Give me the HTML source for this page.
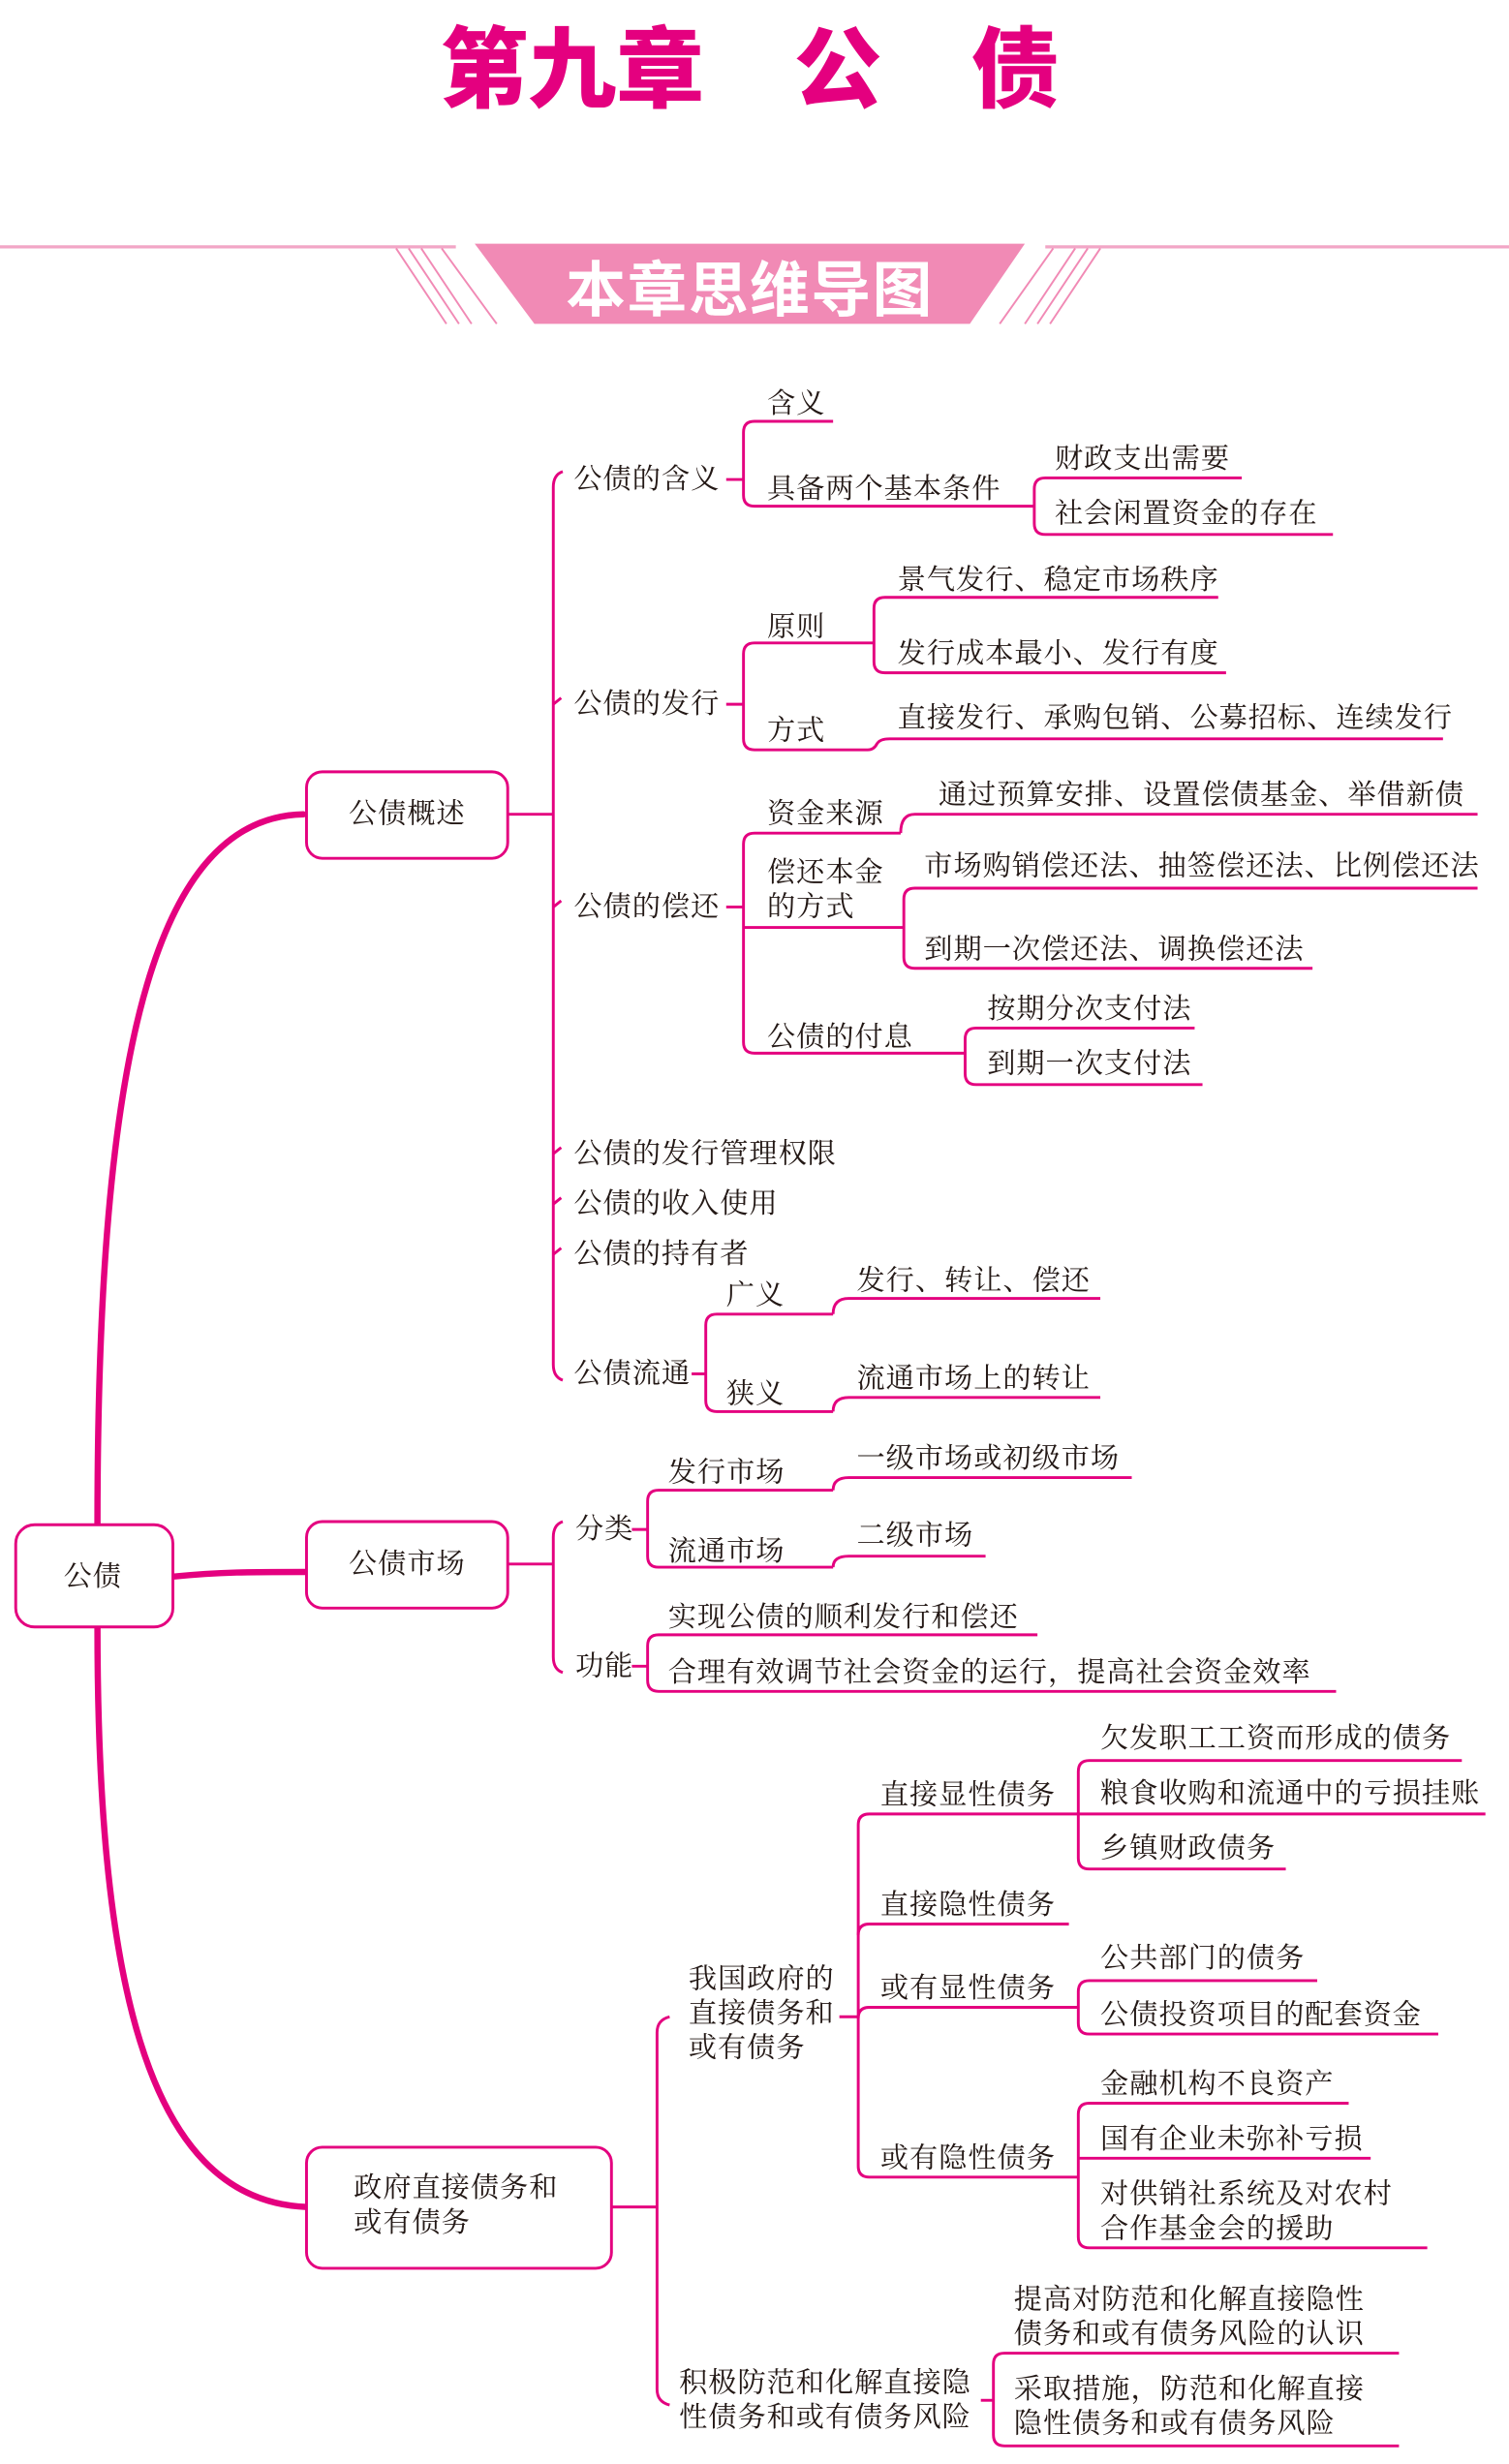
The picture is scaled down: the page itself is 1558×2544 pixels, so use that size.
<!DOCTYPE html>
<html><head><meta charset="utf-8"><style>
html,body{margin:0;padding:0;background:#fff;}
svg{display:block;}
text{font-family:"Liberation Serif","Noto Serif CJK SC",serif;font-size:18px;letter-spacing:0.6px;fill:#231815;dominant-baseline:central;}
.l{fill:none;stroke:#e4007f;stroke-width:1.8;}
.t{fill:none;stroke:#e4007f;stroke-width:4;stroke-linecap:round;}
.b{fill:#fff;stroke:#e4007f;stroke-width:1.8;}
</style></head><body>
<svg width="1558" height="2544" viewBox="0 0 960 1567.5" xmlns="http://www.w3.org/2000/svg">
<text x="280" y="40" style="font-family:'Noto Sans CJK SC',sans-serif;font-size:56px;fill:#e4007f;font-weight:900;letter-spacing:0">第九章</text>
<text x="505" y="40" style="font-family:'Noto Sans CJK SC',sans-serif;font-size:56px;fill:#e4007f;font-weight:900;letter-spacing:0">公</text>
<text x="618" y="40" style="font-family:'Noto Sans CJK SC',sans-serif;font-size:56px;fill:#e4007f;font-weight:900;letter-spacing:0">债</text>
<line x1="0" y1="157" x2="290" y2="157" stroke="#f2a6c6" stroke-width="2"/>
<line x1="665" y1="157" x2="960" y2="157" stroke="#f2a6c6" stroke-width="2"/>
<polygon points="302,155 652,155 617,206 340,206" fill="#f18ab5"/>
<g stroke="#f18ab5" stroke-width="1.2">
<line x1="252" y1="158" x2="284" y2="206"/><line x1="260" y1="158" x2="292" y2="206"/><line x1="268" y1="158" x2="300" y2="206"/><line x1="281" y1="158" x2="316" y2="206"/>
<line x1="700" y1="158" x2="668" y2="206"/><line x1="692" y1="158" x2="660" y2="206"/><line x1="684" y1="158" x2="652" y2="206"/><line x1="670" y1="158" x2="636" y2="206"/>
</g>
<text x="477" y="181" text-anchor="middle" style="font-family:'Noto Sans CJK SC',sans-serif;font-size:38px;font-weight:bold;fill:#fff;letter-spacing:1px">本章思维导图</text>

<path class="t" d="M62 970 C62 700 90 520 193 518"/>
<path class="t" d="M62 1035 C62 1250 90 1400 195 1404"/>
<path class="t" d="M110 1003 C140 1000 160 1000 195 1000"/>

<rect class="b" x="10" y="970" width="100" height="65" rx="12"/>
<text x="59" y="1003" text-anchor="middle">公债</text>
<rect class="b" x="195" y="491" width="128" height="55" rx="10"/>
<text x="259" y="518" text-anchor="middle">公债概述</text>
<rect class="b" x="195" y="968" width="128" height="55" rx="10"/>
<text x="259" y="995" text-anchor="middle">公债市场</text>
<rect class="b" x="195" y="1366" width="194" height="77" rx="10"/>
<text x="225" y="1392">政府直接债务和</text>
<text x="225" y="1414">或有债务</text>

<path class="l" d="M323 518 H352"/>
<path class="l" d="M358 300 Q352 302 352 310 V868 Q352 876 358 878"/>
<path class="l" d="M352 448 l5 -4 M352 577 l5 -4 M352 734 l5 -4 M352 766 l5 -4 M352 798 l5 -4"/>
<text x="365" y="305">公债的含义</text>
<text x="365" y="448">公债的发行</text>
<text x="365" y="577">公债的偿还</text>
<text x="365" y="734">公债的发行管理权限</text>
<text x="365" y="766">公债的收入使用</text>
<text x="365" y="798">公债的持有者</text>
<text x="365" y="874">公债流通</text>

<path class="l" d="M462 305 H473"/>
<path class="l" d="M530 268 H480 Q473 268 473 275 V315 Q473 322 480 322 H658"/>
<text x="488" y="257">含义</text>
<text x="488" y="311">具备两个基本条件</text>
<path class="l" d="M790 304 H665 Q658 304 658 311 V333 Q658 340 665 340 H848"/>
<text x="671" y="292">财政支出需要</text>
<text x="671" y="327">社会闲置资金的存在</text>

<path class="l" d="M462 448 H473"/>
<path class="l" d="M556 409 H480 Q473 409 473 416 V470 Q473 477 480 477 H552 Q556 477 558 473 Q560 470 566 470 H918"/>
<text x="488" y="399">原则</text>
<text x="488" y="465">方式</text>
<path class="l" d="M775 380 H563 Q556 380 556 387 V421 Q556 428 563 428 H780"/>
<text x="571" y="369">景气发行、稳定市场秩序</text>
<text x="571" y="416">发行成本最小、发行有度</text>
<text x="571" y="457">直接发行、承购包销、公募招标、连续发行</text>

<path class="l" d="M462 577 H473"/>
<path class="l" d="M573 530 H480 Q473 530 473 537 V663 Q473 670 480 670 H614"/>
<path class="l" d="M573 530 Q573 518 582 518 H940"/>
<text x="488" y="518">资金来源</text>
<text x="597" y="506">通过预算安排、设置偿债基金、举借新债</text>
<path class="l" d="M473 590 H575"/>
<text x="488" y="555">偿还本金</text>
<text x="488" y="577">的方式</text>
<path class="l" d="M940 565 H582 Q575 565 575 572 V609 Q575 616 582 616 H835"/>
<text x="588" y="551">市场购销偿还法、抽签偿还法、比例偿还法</text>
<text x="588" y="604">到期一次偿还法、调换偿还法</text>
<text x="488" y="660">公债的付息</text>
<path class="l" d="M760 654 H621 Q614 654 614 661 V683 Q614 690 621 690 H765"/>
<text x="628" y="642">按期分次支付法</text>
<text x="628" y="677">到期一次支付法</text>

<path class="l" d="M440 874 H449"/>
<path class="l" d="M530 836 H456 Q449 836 449 843 V891 Q449 898 456 898 H530"/>
<path class="l" d="M530 836 Q530 826 540 826 H700 M530 898 Q530 889 540 889 H700"/>
<text x="462" y="824">广义</text>
<text x="462" y="887">狭义</text>
<text x="545" y="815">发行、转让、偿还</text>
<text x="545" y="877">流通市场上的转让</text>

<path class="l" d="M323 995 H352"/>
<path class="l" d="M358 968 Q352 970 352 978 V1054 Q352 1062 358 1064"/>
<text x="366" y="973">分类</text>
<text x="366" y="1060">功能</text>
<path class="l" d="M402 973 H412 M402 1060 H412"/>
<path class="l" d="M530 948 H419 Q412 948 412 955 V990 Q412 997 419 997 H530"/>
<path class="l" d="M530 948 Q530 940 540 940 H720 M530 997 Q530 990 540 990 H627"/>
<text x="425" y="937">发行市场</text>
<text x="425" y="987">流通市场</text>
<text x="545" y="928">一级市场或初级市场</text>
<text x="545" y="977">二级市场</text>
<path class="l" d="M660 1040 H419 Q412 1040 412 1047 V1069 Q412 1076 419 1076 H850"/>
<text x="425" y="1029">实现公债的顺利发行和偿还</text>
<text x="425" y="1064">合理有效调节社会资金的运行，提高社会资金效率</text>

<path class="l" d="M389 1404 H418"/>
<path class="l" d="M426 1283 Q418 1285 418 1293 V1520 Q418 1528 426 1530"/>
<text x="438" y="1259">我国政府的</text>
<text x="438" y="1281">直接债务和</text>
<text x="438" y="1303">或有债务</text>
<text x="432" y="1516">积极防范和化解直接隐</text>
<text x="432" y="1538">性债务和或有债务风险</text>
<path class="l" d="M534 1283 H546"/>
<path class="l" d="M686 1154 H553 Q546 1154 546 1161 V1378 Q546 1385 553 1385 H686"/>
<path class="l" d="M546 1231 Q546 1224 553 1224 H680 M546 1284 Q546 1277 553 1277 H686"/>
<text x="560" y="1142">直接显性债务</text>
<text x="560" y="1212">直接隐性债务</text>
<text x="560" y="1265">或有显性债务</text>
<text x="560" y="1373">或有隐性债务</text>
<path class="l" d="M930 1120 H693 Q686 1120 686 1127 V1182 Q686 1189 693 1189 H818 M686 1154 H945"/>
<text x="700" y="1106">欠发职工工资而形成的债务</text>
<text x="700" y="1141">粮食收购和流通中的亏损挂账</text>
<text x="700" y="1176">乡镇财政债务</text>
<path class="l" d="M838 1260 H693 Q686 1260 686 1267 V1287 Q686 1294 693 1294 H915"/>
<text x="700" y="1246">公共部门的债务</text>
<text x="700" y="1282">公债投资项目的配套资金</text>
<path class="l" d="M858 1338 H693 Q686 1338 686 1345 V1423 Q686 1430 693 1430 H908 M686 1373 H872"/>
<text x="700" y="1326">金融机构不良资产</text>
<text x="700" y="1361">国有企业未弥补亏损</text>
<text x="700" y="1396">对供销社系统及对农村</text>
<text x="700" y="1418">合作基金会的援助</text>
<path class="l" d="M624 1527 H632"/>
<path class="l" d="M890 1497 H639 Q632 1497 632 1504 V1549 Q632 1556 639 1556 H890"/>
<text x="645" y="1463">提高对防范和化解直接隐性</text>
<text x="645" y="1485">债务和或有债务风险的认识</text>
<text x="645" y="1520">采取措施，防范和化解直接</text>
<text x="645" y="1542">隐性债务和或有债务风险</text>
</svg>
</body></html>
